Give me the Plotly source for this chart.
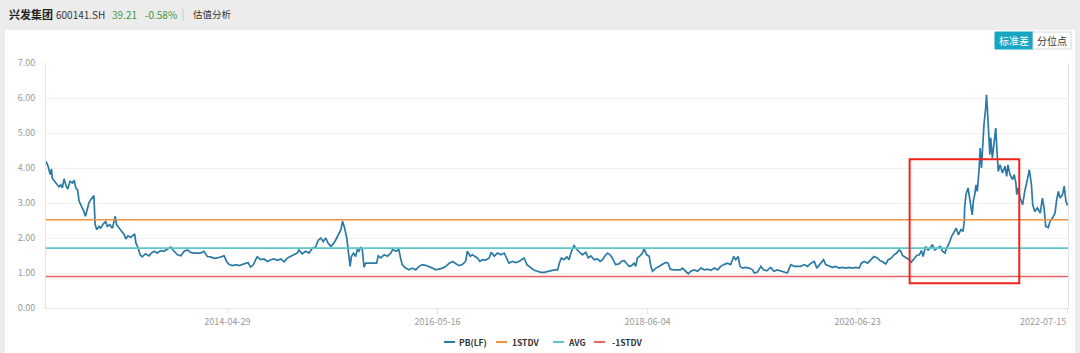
import plotly.graph_objects as go

# ---------------- data ----------------
# x = trading-day index (category position), y = PB(LF)
idx_a = [0, 5, 10, 13, 15, 21, 25, 31, 35, 39,
         43, 48, 52, 57, 63, 67, 71, 75, 79, 83,
         87, 90, 94, 98, 102, 106, 110, 114, 117, 121,
         126, 130, 137, 142, 146, 152, 158, 162, 165, 168,
         174, 179, 186, 190, 195, 202, 208, 211, 214, 219,
         224, 229, 237, 245, 251, 257, 265, 273, 281, 289,
         297, 305, 313, 321, 329, 337, 344, 352, 360, 368,
         376, 384, 392, 400, 408, 416, 424, 430, 436, 444,
         452, 460, 467, 475, 481, 487, 494, 499, 503, 511,
         519, 527, 535, 543, 551, 559, 567, 575, 583, 590,
         598, 602, 610, 618, 626, 634, 642, 648, 654, 660,
         666, 671, 678, 684, 690, 695, 702, 706, 711, 716,
         719, 724, 727, 732, 737, 741, 745, 749, 753, 757,
         761, 787, 791, 797]
pb_a = [4.19, 4.05, 3.81, 3.97, 3.71, 3.62, 3.57, 3.46, 3.52, 3.43,
        3.69, 3.48, 3.40, 3.62, 3.57, 3.65, 3.43, 3.38, 3.05, 2.95,
        2.86, 2.76, 2.62, 2.86, 3.00, 3.09, 3.14, 3.21, 2.38, 2.24,
        2.33, 2.28, 2.41, 2.47, 2.33, 2.38, 2.28, 2.47, 2.62, 2.38,
        2.28, 2.19, 2.10, 1.97, 2.06, 2.02, 2.10, 2.12, 1.86, 1.73,
        1.52, 1.46, 1.55, 1.49, 1.57, 1.62, 1.57, 1.64, 1.62, 1.68,
        1.74, 1.62, 1.52, 1.49, 1.62, 1.66, 1.59, 1.57, 1.57, 1.57,
        1.62, 1.47, 1.46, 1.42, 1.43, 1.46, 1.49, 1.33, 1.24, 1.21,
        1.24, 1.21, 1.24, 1.27, 1.30, 1.17, 1.24, 1.38, 1.46, 1.38,
        1.40, 1.33, 1.38, 1.40, 1.36, 1.40, 1.32, 1.43, 1.49, 1.52,
        1.57, 1.66, 1.55, 1.62, 1.57, 1.71, 1.74, 1.93, 2.00, 1.90,
        2.00, 1.86, 1.76, 1.83, 1.95, 2.06, 2.24, 2.48, 2.28, 2.00,
        1.67, 1.19, 1.47, 1.57, 1.47, 1.67, 1.62, 1.74, 1.67, 1.17,
        1.28, 1.28, 1.49, 1.43]

idx_b = [805, 813, 821, 825, 833, 840, 844, 848, 856, 864,
         872, 880, 888, 896, 904, 912, 920, 928, 936, 944,
         952, 960, 968, 975, 983, 991, 999, 1003, 1010, 1015,
         1021, 1027, 1033, 1039, 1047, 1055, 1060, 1067, 1075, 1083,
         1091, 1097, 1102, 1110, 1118, 1126, 1132, 1138, 1145, 1154,
         1162, 1170, 1178, 1186, 1194, 1202, 1210, 1218, 1222, 1227,
         1233, 1240, 1245, 1251, 1257, 1264, 1269, 1277, 1285, 1291,
         1297, 1305, 1313, 1319, 1325, 1330, 1337, 1343, 1348, 1356,
         1364, 1370, 1376, 1383, 1388, 1394, 1400, 1404, 1408, 1414,
         1420, 1424, 1430, 1436, 1440, 1444, 1452, 1460, 1468, 1475,
         1481, 1486, 1494, 1502, 1510, 1515, 1521, 1529, 1535, 1543,
         1551, 1559, 1567, 1575, 1583, 1591, 1599, 1606]
pb_b = [1.52, 1.48, 1.57, 1.67, 1.62, 1.67, 1.43, 1.24, 1.14, 1.09,
        1.14, 1.09, 1.19, 1.24, 1.22, 1.19, 1.14, 1.09, 1.11, 1.14,
        1.19, 1.28, 1.33, 1.28, 1.21, 1.24, 1.33, 1.62, 1.48, 1.52,
        1.48, 1.43, 1.33, 1.38, 1.37, 1.43, 1.59, 1.48, 1.57, 1.52,
        1.57, 1.38, 1.28, 1.33, 1.30, 1.33, 1.38, 1.43, 1.24, 1.14,
        1.08, 1.05, 1.02, 1.02, 1.05, 1.07, 1.09, 1.09, 1.28, 1.43,
        1.38, 1.46, 1.38, 1.62, 1.78, 1.67, 1.62, 1.52, 1.59, 1.43,
        1.49, 1.38, 1.40, 1.33, 1.38, 1.48, 1.57, 1.52, 1.43, 1.24,
        1.26, 1.33, 1.36, 1.24, 1.19, 1.21, 1.28, 1.19, 1.43, 1.49,
        1.57, 1.69, 1.52, 1.48, 1.19, 1.05, 1.14, 1.19, 1.26, 1.30,
        1.28, 1.11, 1.09, 1.08, 1.09, 1.14, 1.08, 0.98, 1.05, 1.09,
        1.05, 1.14, 1.09, 1.11, 1.08, 1.14, 1.09, 1.19]

idx_c = [1614, 1622, 1630, 1637, 1642, 1648, 1652, 1658, 1666, 1674,
         1682, 1686, 1694, 1702, 1708, 1716, 1725, 1733, 1741, 1749,
         1757, 1765, 1773, 1781, 1789, 1797, 1805, 1813, 1821, 1829,
         1835, 1843, 1851, 1856, 1864, 1872, 1880, 1888, 1896, 1904,
         1912, 1920, 1928, 1936, 1941, 1948, 1956, 1964, 1971, 1979,
         1986, 1991, 1999, 2005, 2011, 2019, 2025, 2031, 2035, 2039,
         2047, 2055, 2060, 2067, 2073, 2079, 2084, 2088, 2094, 2100,
         2105, 2110, 2116, 2122, 2129, 2134, 2140, 2144, 2150, 2156,
         2162, 2167, 2172, 2178, 2183, 2186, 2187, 2190, 2195, 2200,
         2205, 2208, 2211, 2214, 2217, 2221, 2224, 2227, 2230, 2233,
         2237, 2239, 2241, 2244, 2247, 2249, 2253, 2257, 2261, 2264,
         2267, 2271, 2277, 2283, 2287, 2290, 2295, 2301, 2305, 2309,
         2311, 2314, 2319, 2325, 2330, 2337, 2341, 2346, 2349, 2354,
         2360, 2367, 2372, 2376, 2380, 2386, 2390, 2396, 2402, 2406,
         2410, 2414, 2420, 2424, 2428, 2432]
pb_c = [1.24, 1.28, 1.24, 1.47, 1.38, 1.47, 1.19, 1.14, 1.16, 1.14,
        1.09, 1.00, 1.03, 1.19, 1.09, 1.06, 1.16, 1.05, 1.09, 1.06,
        1.03, 1.00, 1.24, 1.19, 1.19, 1.19, 1.24, 1.19, 1.28, 1.33,
        1.14, 1.26, 1.38, 1.24, 1.19, 1.16, 1.19, 1.14, 1.16, 1.14,
        1.16, 1.14, 1.16, 1.14, 1.28, 1.33, 1.28, 1.38, 1.47, 1.43,
        1.35, 1.33, 1.26, 1.38, 1.41, 1.52, 1.57, 1.66, 1.62, 1.50,
        1.45, 1.38, 1.31, 1.41, 1.50, 1.52, 1.64, 1.47, 1.76, 1.66,
        1.71, 1.81, 1.66, 1.71, 1.76, 1.62, 1.57, 1.71, 1.85, 2.05,
        2.19, 2.28, 2.09, 2.24, 2.19, 2.47, 2.86, 3.24, 3.43, 3.09,
        2.66, 3.09, 3.24, 3.52, 3.33, 3.90, 4.57, 4.00, 4.67, 5.24,
        5.71, 6.09, 5.71, 4.95, 4.38, 4.86, 4.29, 4.71, 5.14, 4.47,
        3.90, 4.09, 3.86, 4.05, 3.76, 4.09, 3.81, 3.67, 3.81, 3.57,
        3.24, 3.43, 3.14, 2.95, 3.33, 3.71, 3.95, 3.52, 2.95, 2.76,
        2.86, 2.71, 3.14, 2.86, 2.33, 2.30, 2.47, 2.57, 2.71, 3.09,
        3.33, 3.14, 3.24, 3.48, 3.05, 2.93]

assert len(idx_a) == len(pb_a) and len(idx_b) == len(pb_b) and len(idx_c) == len(pb_c)
trade_idx = idx_a + idx_b + idx_c
pb_lf = pb_a + pb_b + pb_c

stdv_up = 2.52   # 1STDV
avg_pb = 1.71    # AVG
stdv_dn = 0.90   # -1STDV

tick_idx = [432, 932, 1432, 1932, 2432]
tick_labels = ["2014-04-29", "2016-05-16", "2018-06-04", "2020-06-23", "2022-07-15"]
y_ticks = [0, 1, 2, 3, 4, 5, 6, 7]

series_names = ["PB(LF)", "1STDV", "AVG", "-1STDV"]

box_x = [2056, 2317]   # highlighted period (red box)
box_y = [0.71, 4.25]

x_span = [trade_idx[0], trade_idx[-1] + 1]

# ---------------- layout geometry ----------------
W, H = 1080, 353
ML, MR, MT, MB = 46, 12, 63, 45
PW, PH = W - ML - MR, H - MT - MB


def px(x):
    return (x - ML) / PW


def py(y):
    return (H - MB - y) / PH


FONT = "Noto Sans CJK SC, Noto Sans, sans-serif"
COLORS = ["#2b7aa6", "#f0923e", "#5cc6c8", "#ea6466"]

fig = go.Figure()
fig.add_trace(go.Scatter(x=trade_idx, y=pb_lf, mode="lines", name=series_names[0],
                         line=dict(color=COLORS[0], width=1.7)))
for name, val, col in zip(series_names[1:], [stdv_up, avg_pb, stdv_dn], COLORS[1:]):
    fig.add_trace(go.Scatter(x=x_span, y=[val, val], mode="lines", name=name,
                             line=dict(color=col, width=1.6)))

shapes = [
    # white content panel
    dict(type="rect", xref="paper", yref="paper", x0=px(5), x1=px(1075), y0=py(400), y1=py(30),
         fillcolor="#ffffff", line=dict(width=0), layer="below"),
    # header divider
    dict(type="line", xref="paper", yref="paper", x0=px(183), x1=px(183), y0=py(8), y1=py(21),
         line=dict(color="#cfcfcf", width=1)),
    # buttons
    dict(type="rect", xref="paper", yref="paper", x0=px(995), x1=px(1033), y0=py(49), y1=py(32),
         fillcolor="#17a6c3", line=dict(color="#17a6c3", width=1)),
    dict(type="rect", xref="paper", yref="paper", x0=px(1033), x1=px(1071), y0=py(49), y1=py(32),
         fillcolor="#ffffff", line=dict(color="#d6d6d6", width=1)),
    # red highlight box
    dict(type="rect", xref="x", yref="y", x0=box_x[0], x1=box_x[1], y0=box_y[0], y1=box_y[1],
         line=dict(color="#f2231b", width=2), fillcolor="rgba(0,0,0,0)", layer="above"),
]

annotations = [
    dict(text="<b>兴发集团</b>", x=px(7), y=py(14), xref="paper", yref="paper", xanchor="left",
         yanchor="middle", showarrow=False, font=dict(size=11, color="#222", family=FONT)),
    dict(text="600141.SH", x=px(54), y=py(14), xref="paper", yref="paper", xanchor="left",
         yanchor="middle", showarrow=False, font=dict(size=10, color="#333", family=FONT)),
    dict(text="39.21", x=px(110), y=py(14), xref="paper", yref="paper", xanchor="left",
         yanchor="middle", showarrow=False, font=dict(size=10, color="#3c9a3c", family=FONT)),
    dict(text="-0.58%", x=px(143), y=py(14), xref="paper", yref="paper", xanchor="left",
         yanchor="middle", showarrow=False, font=dict(size=10, color="#3c9a3c", family=FONT)),
    dict(text="估值分析", x=px(191), y=py(14), xref="paper", yref="paper", xanchor="left",
         yanchor="middle", showarrow=False, font=dict(size=9.5, color="#333", family=FONT)),
    dict(text="标准差", x=px(1014), y=py(40.5), xref="paper", yref="paper", xanchor="center",
         yanchor="middle", showarrow=False, font=dict(size=10, color="#ffffff", family=FONT)),
    dict(text="分位点", x=px(1052), y=py(40.5), xref="paper", yref="paper", xanchor="center",
         yanchor="middle", showarrow=False, font=dict(size=10, color="#333", family=FONT)),
    # last x tick label, right-aligned to its tick so it stays inside the chart
    dict(text=tick_labels[-1], x=tick_idx[-1], xref="x", y=py(321), yref="paper",
         xanchor="right", yanchor="middle", showarrow=False,
         font=dict(size=9, color="#999", family=FONT)),
]

# compact legend (short line sample + label), laid out like the original
legend_line_x = [444, 496, 553, 594]
legend_text_x = [457, 510, 566, 610]
LEG_Y = 342
for name, col, lx, tx in zip(series_names, COLORS, legend_line_x, legend_text_x):
    shapes.append(dict(type="line", xref="paper", yref="paper", x0=px(lx), x1=px(lx + 11),
                       y0=py(LEG_Y), y1=py(LEG_Y), line=dict(color=col, width=2)))
    annotations.append(dict(text="<b>%s</b>" % name, x=px(tx), y=py(LEG_Y), xref="paper",
                            yref="paper", xanchor="left", yanchor="middle", showarrow=False,
                            font=dict(size=8.5, color="#333", family=FONT)))

fig.update_layout(
    width=W, height=H,
    margin=dict(l=ML, r=MR, t=MT, b=MB, pad=0, autoexpand=False),
    paper_bgcolor="#ececec",
    plot_bgcolor="#ffffff",
    font=dict(family=FONT, size=9, color="#999"),
    shapes=shapes,
    annotations=annotations,
    showlegend=False,
    xaxis=dict(range=x_span, tickmode="array", tickvals=tick_idx,
               ticktext=tick_labels[:-1] + [""],
               showgrid=False, zeroline=False, showline=True, linecolor="#dfe3ee", linewidth=1,
               ticks="outside", ticklen=5, tickcolor="#dfe3ee",
               tickfont=dict(size=9, color="#999")),
    yaxis=dict(range=[0, 7], tickmode="array", tickvals=y_ticks, tickformat=".2f",
               showgrid=True, gridcolor="#efefef", gridwidth=1, zeroline=False,
               showline=True, mirror=True, linecolor="#dfe3ee", linewidth=1,
               ticks="", ticklabelstandoff=8, tickfont=dict(size=9, color="#999")),
)

fig.write_html("out.html")
